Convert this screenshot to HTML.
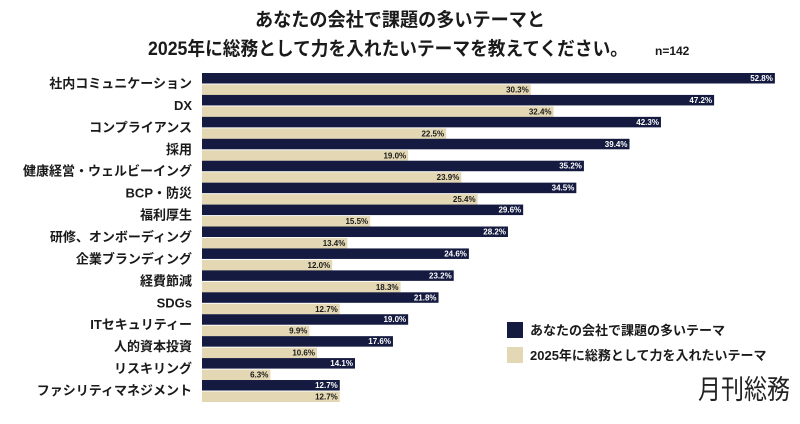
<!DOCTYPE html>
<html><head><meta charset="utf-8"><style>
body{margin:0;width:800px;height:419px;background:#fff;overflow:hidden;font-family:"Liberation Sans","Noto Sans CJK JP",sans-serif;}
</style></head><body>
<svg id="chart" width="800" height="419" xmlns="http://www.w3.org/2000/svg">
<text x="255" y="26" textLength="290" lengthAdjust="spacingAndGlyphs" font-size="19" font-weight="bold" fill="#1a1a1a" font-family="Liberation Sans, Noto Sans CJK JP, sans-serif">あなたの会社で課題の多いテーマと</text>
<text x="148" y="55" textLength="480" lengthAdjust="spacingAndGlyphs" font-size="19" font-weight="bold" fill="#1a1a1a" font-family="Liberation Sans, Noto Sans CJK JP, sans-serif">2025年に総務として力を入れたいテーマを教えてください。</text>
<text x="655" y="55" font-size="12" font-weight="bold" fill="#1a1a1a" font-family="Liberation Sans, Noto Sans CJK JP, sans-serif">n=142</text>
<g id="bars"></g>
<rect x="507" y="322" width="16" height="16" fill="#141a40"/>
<text x="530" y="335" font-size="13" font-weight="bold" fill="#1a1a1a" font-family="Liberation Sans, Noto Sans CJK JP, sans-serif">あなたの会社で課題の多いテーマ</text>
<rect x="507" y="347" width="16" height="16" fill="#e3d8b3"/>
<text x="530" y="360" font-size="13" font-weight="bold" fill="#1a1a1a" font-family="Liberation Sans, Noto Sans CJK JP, sans-serif">2025年に総務として力を入れたいテーマ</text>
<text x="790" y="399" text-anchor="end" font-size="27" fill="#222" textLength="92" lengthAdjust="spacingAndGlyphs" font-family="Noto Sans CJK JP, sans-serif">月刊総務</text>
</svg>
<script>
const categories=["社内コミュニケーション","DX","コンプライアンス","採用","健康経営・ウェルビーイング","BCP・防災","福利厚生","研修、オンボーディング","企業ブランディング","経費節減","SDGs","ITセキュリティー","人的資本投資","リスキリング","ファシリティマネジメント"];
const issues=[52.8,47.2,42.3,39.4,35.2,34.5,29.6,28.2,24.6,23.2,21.8,19.0,17.6,14.1,12.7];
const focus2025=[30.3,32.4,22.5,19.0,23.9,25.4,15.5,13.4,12.0,18.3,12.7,9.9,10.6,6.3,12.7];
const x0=202,k=10.85,y0=73,pitch=21.93,bh=10.5;
const xs=v=>x0+v*k;
const g=document.getElementById('bars');
const NS='http://www.w3.org/2000/svg';
function mk(t,a){const e=document.createElementNS(NS,t);for(const n in a)e.setAttribute(n,a[n]);return e;}
categories.forEach((c,i)=>{
  const y=y0+i*pitch;
  const lab=mk('text',{x:192,y:y+15,'text-anchor':'end','font-size':13,'font-weight':'bold',fill:'#1a1a1a','font-family':'Liberation Sans, Noto Sans CJK JP, sans-serif'});
  lab.textContent=c;
  
  
  g.appendChild(lab);
  [[issues[i],'#141a40','#fff',y,'bar-issues'],[focus2025[i],'#e3d8b3','#1a1a1a',y+11.5,'bar-2025']].forEach(([v,fc,tc,yy,nm])=>{
    const r=mk('rect',{x:x0,y:yy,width:xs(v)-x0,height:bh,fill:fc});
    
    
    g.appendChild(r);
    const t=mk('text',{x:xs(v)-2,y:yy+8,'text-anchor':'end','font-size':8,'font-weight':'bold',fill:tc,'font-family':'Liberation Sans, sans-serif'});
    t.textContent=v.toFixed(1)+'%';
    
    
    g.appendChild(t);
  });
});
</script>
</body></html>
